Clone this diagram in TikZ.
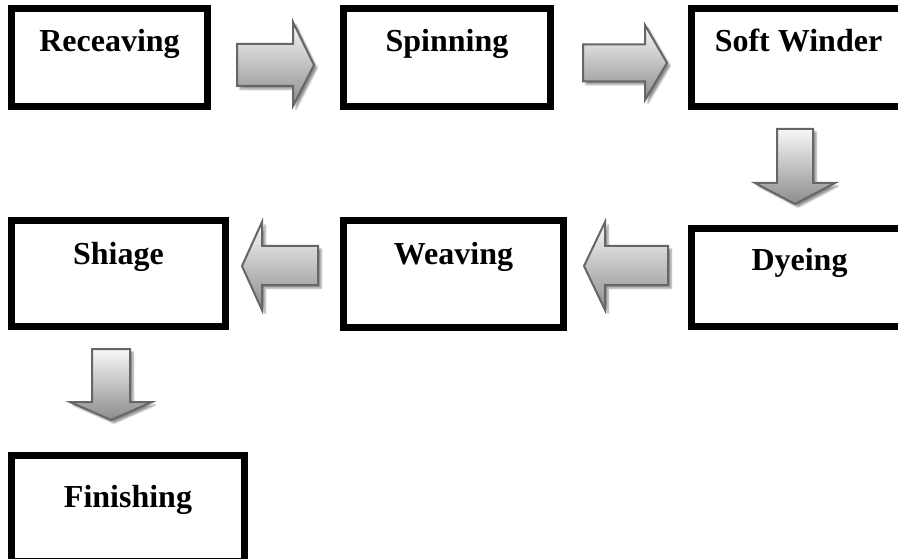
\documentclass[tikz,border=0pt]{standalone}
\usepackage{fontspec}
\setmainfont{Liberation Serif}
\usetikzlibrary{shadows.blur}

\begin{document}
\begin{tikzpicture}[x=1pt,y=-1pt,
  stage/.style={draw=black, line width=7pt, fill=white, inner sep=0pt,
    font=\fontsize{32pt}{36pt}\selectfont\bfseries},
  blockarrow/.style={draw=black!60, line width=2pt, line join=miter,
    top color=black!3, bottom color=black!45,
    blur shadow={shadow xshift=3pt, shadow yshift=-3pt,
      shadow blur steps=4, shadow opacity=45}}]
\useasboundingbox (0,0) rectangle (898,559);
\clip (0,0) rectangle (898,559);

% process stages (text sits in the upper part of each box)
\node[stage, minimum width=196pt, minimum height=98pt, text height=43.5pt, text depth=54.5pt]
  (receaving) at (109.5,57.5) {Receaving};
\node[stage, minimum width=207pt, minimum height=98pt, text height=43.5pt, text depth=54.5pt]
  (spinning) at (447,57.5) {Spinning};
\node[stage, minimum width=214pt, minimum height=98pt, text height=43.5pt, text depth=54.5pt]
  (softwinder) at (798.5,57.5) {Soft Winder};
\node[stage, minimum width=216pt, minimum height=98pt, text height=41.5pt, text depth=56.5pt]
  (dyeing) at (799.5,277.5) {Dyeing};
\node[stage, minimum width=220pt, minimum height=107pt, text height=44.5pt, text depth=62.5pt]
  (weaving) at (453.5,274) {Weaving};
\node[stage, minimum width=214pt, minimum height=106pt, text height=44.5pt, text depth=61.5pt]
  (shiage) at (118.5,273.5) {Shiage};
\node[stage, minimum width=233pt, minimum height=106pt, text height=51.5pt, text depth=54.5pt]
  (finishing) at (128,508.5) {Finishing};

% block arrows between the stages
\path[blockarrow] (237,44) -- (293,44) -- (293,22) -- (314,65) -- (293,106) -- (293,86) -- (237,86) -- cycle;
\path[blockarrow] (583,44.5) -- (645,44.5) -- (645,25) -- (667,63) -- (645,100) -- (645,81.5) -- (583,81.5) -- cycle;
\path[blockarrow] (777,129) -- (813,129) -- (813,183) -- (835,183) -- (795,204) -- (755,183) -- (777,183) -- cycle;
\path[blockarrow] (668,246) -- (605,246) -- (605,222) -- (584,266) -- (605,310) -- (605,285) -- (668,285) -- cycle;
\path[blockarrow] (318,246) -- (262,246) -- (262,222) -- (242,266) -- (262,310) -- (262,285) -- (318,285) -- cycle;
\path[blockarrow] (92,349) -- (130,349) -- (130,402) -- (152,402) -- (111,420) -- (70,402) -- (92,402) -- cycle;
\end{tikzpicture}
\end{document}
